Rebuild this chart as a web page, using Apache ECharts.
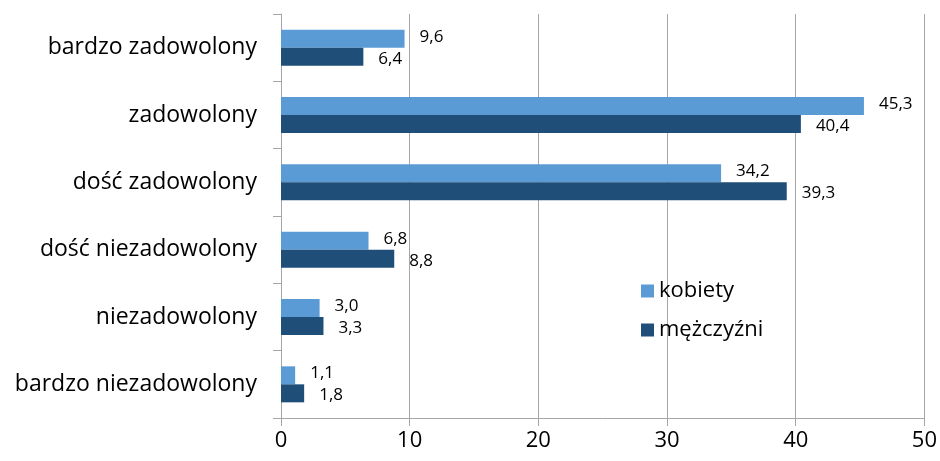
<!DOCTYPE html>
<html>
<head>
<meta charset="utf-8">
<script src="https://cdn.jsdelivr.net/npm/echarts@6/dist/echarts.min.js"></script>
<style>
  html, body { margin: 0; padding: 0; background: #fff; }
  #main { width: 940px; height: 461px; }
</style>
</head>
<body>
<div id="main"></div>
<script>
// dane
var categories = ['bardzo zadowolony', 'zadowolony', 'dość zadowolony', 'dość niezadowolony', 'niezadowolony', 'bardzo niezadowolony'];
var kobiety = [9.6, 45.3, 34.2, 6.8, 3.0, 1.1];
var mezczyzni = [6.4, 40.4, 39.3, 8.8, 3.3, 1.8];
var xTicks = [0, 10, 20, 30, 40, 50];

var font = '"Open Sans", "Noto Sans", sans-serif';

var myChart = echarts.init(document.getElementById('main'));

function lbl(p) {
    return p.value.toFixed(1).replace('.', ',');
}

var option = {
    animation: false,
    grid: { left: 281, right: 15, top: 14, bottom: 43 },
    legend: {
        orient: 'vertical',
        left: 636,
        top: 275,
        icon: 'rect',
        itemWidth: 13,
        itemHeight: 13,
        itemGap: 17,
        textStyle: { fontSize: 22, color: '#000', fontFamily: font },
        data: ['kobiety', 'mężczyźni']
    },
    xAxis: {
        type: 'value',
        min: xTicks[0],
        max: xTicks[xTicks.length - 1],
        interval: 10,
        axisLine: { show: true, lineStyle: { color: '#a6a6a6' } },
        axisTick: { show: true, length: 8, lineStyle: { color: '#a6a6a6' } },
        axisLabel: { fontSize: 22, color: '#000', fontFamily: font, margin: 12 },
        splitLine: { lineStyle: { color: '#a6a6a6' } }
    },
    yAxis: {
        type: 'category',
        inverse: true,
        data: categories,
        axisLine: { show: true, lineStyle: { color: '#a6a6a6' } },
        axisTick: { show: true, length: 8, lineStyle: { color: '#a6a6a6' } },
        axisLabel: { fontSize: 23, color: '#000', fontFamily: font, margin: 24 }
    },
    series: [
        {
            name: 'kobiety',
            type: 'bar',
            barWidth: 18,
            barGap: '0%',
            data: kobiety,
            itemStyle: { color: '#5b9bd5' },
            label: {
                show: true, position: 'right', distance: 15, offset: [0, -2],
                formatter: lbl, fontSize: 17, color: '#000', fontFamily: font
            }
        },
        {
            name: 'mężczyźni',
            type: 'bar',
            barWidth: 18,
            data: mezczyzni,
            itemStyle: { color: '#1f4e79' },
            label: {
                show: true, position: 'right', distance: 15, offset: [0, 2],
                formatter: lbl, fontSize: 17, color: '#000', fontFamily: font
            }
        }
    ]
};
myChart.setOption(option);
</script>
</body>
</html>
